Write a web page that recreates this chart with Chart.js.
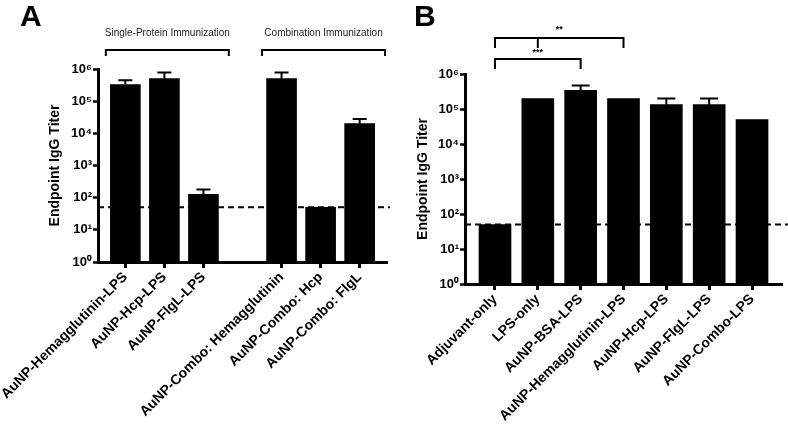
<!DOCTYPE html>
<html>
<head>
<meta charset="utf-8">
<script src="https://cdn.jsdelivr.net/npm/chart.js@4.4.1/dist/chart.umd.min.js"></script>
<style>
  html, body { margin: 0; padding: 0; background: #fff; }
  #wrap { position: relative; width: 788px; height: 425px; }
  .panel { position: absolute; top: 0; width: 394px; height: 425px; }
</style>
</head>
<body>
<div id="wrap">
  <div class="panel" style="left:0"><canvas id="chartA"></canvas></div>
  <div class="panel" style="left:394px"><canvas id="chartB"></canvas></div>
</div>
<script>
// panel A - titers per immunization (blank slot separates the two groups)
var labelsA = ['AuNP-Hemagglutinin-LPS', 'AuNP-Hcp-LPS', 'AuNP-FlgL-LPS', '',
               'AuNP-Combo: Hemagglutinin', 'AuNP-Combo: Hcp', 'AuNP-Combo: FlgL'];
var titerA = [330000, 500000, 126, null, 500000, 50, 20000];
var errTopA = [450000, 780000, 180, null, 780000, null, 28000];
var groupNamesA = ['Single-Protein Immunization', 'Combination Immunization'];
var groupFromA = [0, 4];
var groupToA = [2, 6];

// panel B
var labelsB = ['Adjuvant-only', 'LPS-only', 'AuNP-BSA-LPS', 'AuNP-Hemagglutinin-LPS',
               'AuNP-Hcp-LPS', 'AuNP-FlgL-LPS', 'AuNP-Combo-LPS'];
var titerB = [50, 200000, 340000, 200000, 133000, 133000, 50000];
var errTopB = [null, null, 470000, null, 200000, 200000, null];
var sigStarsB = ['**', '***'];
var sigFromB = [0, 0];
var sigToB = [3, 2];
var sigMidB = [1, null];

var detectionLimit = 50;
var yTicks = [1, 10, 100, 1000, 10000, 100000, 1000000];
var sup = ['\u2070', '\u00b9', '\u00b2', '\u00b3', '\u2074', '\u2075', '\u2076'];

var FONT = "'Liberation Sans', Arial, sans-serif";

var extras = {
    id: 'extras',
    afterDatasetsDraw: function(chart, args, o) {
        var ctx = chart.ctx, x = chart.scales.x, y = chart.scales.y, a = chart.chartArea;
        var bars = chart.getDatasetMeta(0).data;
        var pitch = x.getPixelForValue(1) - x.getPixelForValue(0);
        ctx.save();
        ctx.strokeStyle = '#000';
        ctx.fillStyle = '#000';

        // error bars (upper only)
        ctx.lineWidth = 2;
        o.errTop.forEach(function(e, i) {
            if (e == null) return;
            var bx = bars[i].x, top = y.getPixelForValue(e), base = bars[i].y;
            ctx.beginPath();
            ctx.moveTo(bx, base); ctx.lineTo(bx, top);
            ctx.moveTo(bx - o.cap / 2, top); ctx.lineTo(bx + o.cap / 2, top);
            ctx.stroke();
        });

        // limit of detection
        var ly = y.getPixelForValue(detectionLimit);
        ctx.setLineDash([6, 4]);
        ctx.lineWidth = 2;
        ctx.beginPath();
        ctx.moveTo(a.left, ly);
        ctx.lineTo(o.extendToEdge ? chart.width : a.right + 3, ly);
        ctx.stroke();
        ctx.setLineDash([]);

        // group brackets
        if (o.groups) {
            ctx.lineWidth = 2;
            ctx.font = '10px ' + FONT;
            ctx.textAlign = 'center';
            ctx.textBaseline = 'middle';
            o.groups.names.forEach(function(name, g) {
                var x1 = x.getPixelForValue(o.groups.from[g]) - 0.5 * pitch;
                var x2 = x.getPixelForValue(o.groups.to[g]) + 0.65 * pitch;
                ctx.beginPath();
                ctx.moveTo(x1, 56); ctx.lineTo(x1, 50); ctx.lineTo(x2, 50); ctx.lineTo(x2, 56);
                ctx.stroke();
                ctx.fillStyle = '#222';
                ctx.fillText(name, (x1 + x2) / 2, 33);
                ctx.fillStyle = '#000';
            });
        }

        // significance brackets
        if (o.sig) {
            var levels = [38, 59], textY = [30, 53];
            ctx.lineWidth = 2;
            ctx.font = 'bold 9px ' + FONT;
            ctx.textAlign = 'center';
            ctx.textBaseline = 'middle';
            o.sig.stars.forEach(function(s, k) {
                var x1 = x.getPixelForValue(o.sig.from[k]), x2 = x.getPixelForValue(o.sig.to[k]);
                var yy = levels[k];
                ctx.beginPath();
                ctx.moveTo(x1, yy + 10); ctx.lineTo(x1, yy); ctx.lineTo(x2, yy); ctx.lineTo(x2, yy + 10);
                if (o.sig.mid[k] != null) {
                    var xm = x.getPixelForValue(o.sig.mid[k]);
                    ctx.moveTo(xm, yy); ctx.lineTo(xm, yy + 10);
                }
                ctx.stroke();
                ctx.fillText(s, (x1 + x2) / 2, textY[k]);
            });
        }

        // panel letter
        ctx.font = 'bold 30px ' + FONT;
        ctx.textAlign = 'left';
        ctx.textBaseline = 'alphabetic';
        ctx.fillText(o.letter, 20, 26);
        ctx.restore();
    }
};

function makeChart(id, labels, values, geo, extraOpts) {
    var ctx = document.getElementById(id).getContext('2d');
    return new Chart(ctx, {
        type: 'bar',
        data: {
            labels: labels,
            datasets: [{
                data: values,
                backgroundColor: '#000',
                borderWidth: 0,
                barThickness: geo.barW
            }]
        },
        options: {
            responsive: true,
            maintainAspectRatio: false,
            animation: false,
            events: [],
            layout: { padding: { top: geo.top, right: geo.right, left: 0, bottom: 0 } },
            plugins: {
                legend: { display: false },
                tooltip: { enabled: false },
                extras: extraOpts
            },
            scales: {
                x: {
                    type: 'category',
                    afterBuildTicks: function(s) {
                        s._startValue = s.min - 0.7;
                        s._valueRange = (s.max - s.min) + 1.4;
                    },
                    afterFit: function(s) {
                        s.height = geo.xHeight;
                        s.paddingLeft = 0;
                        s.paddingRight = 0;
                    },
                    ticks: {
                        autoSkip: false,
                        minRotation: 45,
                        maxRotation: 45,
                        padding: 1,
                        color: '#000',
                        font: { family: FONT, size: 14, weight: 'bold' }
                    },
                    grid: {
                        offset: false,
                        drawOnChartArea: false,
                        tickLength: 6,
                        tickWidth: 3,
                        tickColor: function(c) { return labels[c.index] ? '#000' : 'rgba(0,0,0,0)'; }
                    },
                    border: { color: '#000', width: 3 }
                },
                y: {
                    type: 'logarithmic',
                    min: 1,
                    max: 1000000,
                    afterBuildTicks: function(s) {
                        s.ticks = yTicks.map(function(v) { return { value: v }; });
                    },
                    afterFit: function(s) {
                        s.width = geo.yWidth;
                        s.paddingTop = 0;
                        s.paddingBottom = 0;
                    },
                    ticks: {
                        padding: 1,
                        color: '#000',
                        font: { family: FONT, size: 13, weight: 'bold' },
                        callback: function(v) { return '10' + sup[Math.round(Math.log10(v))]; }
                    },
                    grid: {
                        drawOnChartArea: false,
                        tickLength: 5,
                        tickWidth: 2.5,
                        tickColor: '#000'
                    },
                    border: { color: '#000', width: 3 },
                    title: {
                        display: true,
                        text: 'Endpoint IgG Titer',
                        color: '#000',
                        font: { family: FONT, size: geo.titleSize, weight: 'bold' },
                        padding: { top: geo.titlePad, bottom: 0 }
                    }
                }
            }
        },
        plugins: [extras]
    });
}

makeChart('chartA', labelsA, titerA,
    { top: 69, right: 7, xHeight: 163, yWidth: 98, barW: 30, titleSize: 14, titlePad: 47 },
    { letter: 'A', errTop: errTopA, cap: 14, extendToEdge: false,
      groups: { names: groupNamesA, from: groupFromA, to: groupToA } });

makeChart('chartB', labelsB, titerB,
    { top: 74, right: 6, xHeight: 141, yWidth: 71, barW: 32, titleSize: 14, titlePad: 21 },
    { letter: 'B', errTop: errTopB, cap: 18, extendToEdge: true,
      sig: { stars: sigStarsB, from: sigFromB, to: sigToB, mid: sigMidB } });
</script>
</body>
</html>
